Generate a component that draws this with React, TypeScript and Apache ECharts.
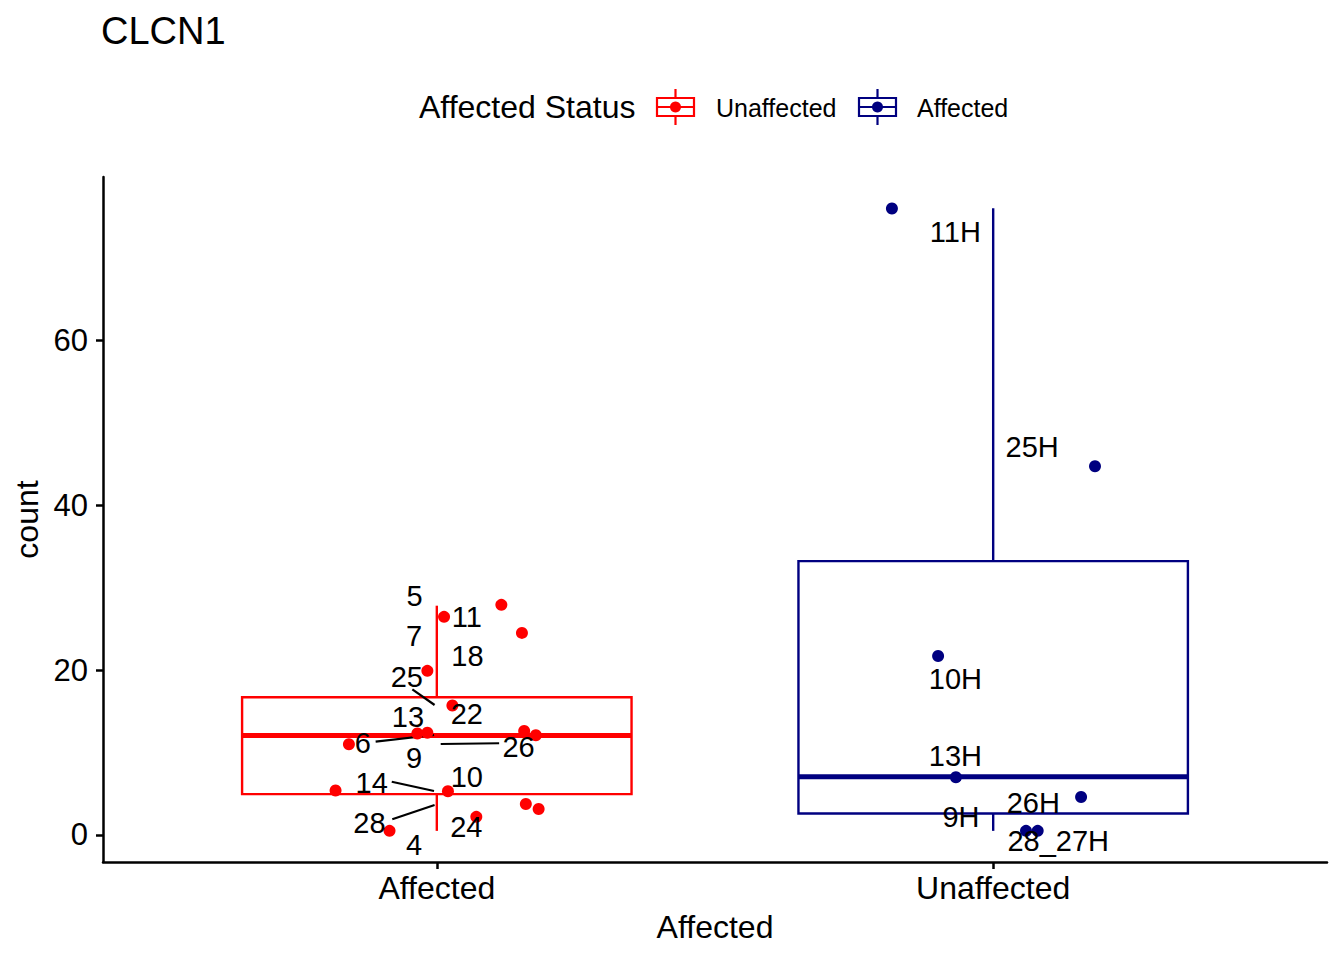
import React, { useEffect, useRef } from "react";
import * as echarts from "echarts";

const FONT = "'Liberation Sans', Arial, Helvetica, sans-serif";

const categories = ["Affected", "Unaffected"];
const categoryPositions = [1, 2];
const yTicks = [0, 20, 40, 60];

// box statistics: [position, lower whisker, Q1, median, Q3, upper whisker, colour index]
const boxStats = [
  [1, 0.5, 4.95, 12.05, 16.7, 27.8, 0],
  [2, 0.5, 2.6, 7.05, 33.2, 76.0, 1],
];
const groupColors = ["#FF0000", "#000080"];
const legendNames = ["Unaffected", "Affected"];

// jittered points [x, count]
const redPoints = [
  [1.116, 27.9], [1.013, 26.45], [1.153, 24.5], [0.983, 19.9], [1.028, 15.7],
  [0.965, 12.3], [0.983, 12.4], [1.157, 12.6], [1.178, 12.1], [0.842, 11.0],
  [0.818, 5.4], [1.02, 5.3], [1.16, 3.75], [1.183, 3.15], [1.071, 2.2], [0.915, 0.5],
];
const bluePoints = [
  [1.818, 75.95], [2.183, 44.7], [1.901, 21.7], [1.933, 7.0],
  [2.158, 4.6], [2.059, 0.5], [2.08, 0.5],
];

// repelled text labels
const labelTexts = [
  "5", "11", "7", "18", "25", "22", "13", "6", "26", "9", "10", "14", "28", "24", "4",
  "11H", "25H", "10H", "13H", "26H", "9H", "28_27H",
];
const labelPositions = [
  [0.96, 28.97], [1.054, 26.46], [0.959, 24.16], [1.055, 21.7], [0.946, 19.19],
  [1.054, 14.63], [0.948, 14.34], [0.867, 11.12], [1.147, 10.7], [0.959, 9.3],
  [1.054, 6.99], [0.883, 6.27], [0.879, 1.49], [1.053, 1.01], [0.959, -1.21],
  [1.932, 73.13], [2.07, 47.07], [1.932, 18.87], [1.932, 9.58], [2.072, 3.84],
  [1.942, 2.15], [2.117, -0.73],
];
// label connector segments [x1, y1, x2, y2]
const segments = [
  [0.956, 17.66, 0.996, 15.76],
  [0.89, 11.31, 0.995, 12.12],
  [1.007, 11.03, 1.112, 11.12],
  [0.919, 6.46, 0.995, 5.33],
  [0.92, 1.9, 0.996, 3.64],
];

function legendKey(x: number, y: number, color: string) {
  const w = 37;
  return {
    type: "group",
    x,
    y,
    children: [
      { type: "line", shape: { x1: w / 2, y1: 0, x2: w / 2, y2: 9 }, style: { stroke: color, lineWidth: 2.2 } },
      { type: "line", shape: { x1: w / 2, y1: 27, x2: w / 2, y2: 36 }, style: { stroke: color, lineWidth: 2.2 } },
      { type: "rect", shape: { x: 0, y: 9, width: w, height: 18 }, style: { stroke: color, fill: "#fff", lineWidth: 2.2 } },
      { type: "line", shape: { x1: 0, y1: 18, x2: w, y2: 18 }, style: { stroke: color, lineWidth: 2.2 } },
      { type: "circle", shape: { cx: w / 2, cy: 18, r: 5.5 }, style: { fill: color } },
    ],
  };
}

export default function App() {
  const ref = useRef<HTMLDivElement>(null);
  useEffect(() => {
    if (!ref.current) return;
    const chart = echarts.init(ref.current, undefined, { renderer: "svg" });
    const option: any = {
      animation: false,
      backgroundColor: "#ffffff",
      textStyle: { fontFamily: FONT },
      title: {
        text: "CLCN1",
        left: 101,
        top: 12,
        padding: 0,
        textStyle: { fontFamily: FONT, fontSize: 38, fontWeight: "normal", color: "#000" },
      },
      grid: { left: 103, right: 17, top: 177, bottom: 98, containLabel: false },
      xAxis: {
        type: "value",
        min: 0.4,
        max: 2.6,
        name: "Affected",
        nameLocation: "middle",
        nameGap: 49,
        nameTextStyle: { fontFamily: FONT, fontSize: 32, color: "#000" },
        axisLine: { show: true, onZero: false, lineStyle: { color: "#000", width: 2.5 } },
        axisTick: { show: true, length: 7, customValues: categoryPositions, lineStyle: { color: "#000", width: 2.5 } },
        axisLabel: {
          customValues: categoryPositions,
          margin: 10,
          fontFamily: FONT,
          fontSize: 32,
          color: "#000",
          formatter: (v: number) => categories[Math.round(v) - 1] ?? "",
        },
        splitLine: { show: false },
      },
      yAxis: {
        type: "value",
        min: -3.275,
        max: 79.775,
        name: "count",
        nameLocation: "middle",
        nameRotate: 90,
        nameGap: 60,
        nameTextStyle: { fontFamily: FONT, fontSize: 32, color: "#000" },
        axisLine: { show: true, onZero: false, lineStyle: { color: "#000", width: 2.5 } },
        axisTick: { show: true, length: 7, customValues: yTicks, lineStyle: { color: "#000", width: 2.5 } },
        axisLabel: {
          customValues: yTicks,
          margin: 15,
          fontFamily: FONT,
          fontSize: 31,
          color: "#000",
        },
        splitLine: { show: false },
      },
      graphic: [
        {
          type: "text",
          x: 419,
          y: 107,
          style: { text: "Affected Status", fontFamily: FONT, fontSize: 32, fill: "#000", align: "left", verticalAlign: "middle" },
        },
        legendKey(657, 89, groupColors[0]),
        {
          type: "text",
          x: 716,
          y: 108,
          style: { text: legendNames[0], fontFamily: FONT, fontSize: 25, fill: "#000", align: "left", verticalAlign: "middle" },
        },
        legendKey(859, 89, groupColors[1]),
        {
          type: "text",
          x: 917,
          y: 108,
          style: { text: legendNames[1], fontFamily: FONT, fontSize: 25, fill: "#000", align: "left", verticalAlign: "middle" },
        },
      ],
      series: [
        {
          type: "custom",
          name: "box",
          data: boxStats,
          encode: { x: 0, y: [1, 2, 3, 4, 5] },
          renderItem: (params: any, api: any) => {
            const x = api.value(0);
            const lo = api.value(1);
            const q1 = api.value(2);
            const med = api.value(3);
            const q3 = api.value(4);
            const hi = api.value(5);
            const color = groupColors[api.value(6)];
            const hw = 0.35;
            const c = (xx: number, yy: number) => api.coord([xx, yy]);
            const tl = c(x - hw, q3);
            const br = c(x + hw, q1);
            const pHi = c(x, hi);
            const pQ3 = c(x, q3);
            const pQ1 = c(x, q1);
            const pLo = c(x, lo);
            const mL = c(x - hw, med);
            const mR = c(x + hw, med);
            return {
              type: "group",
              children: [
                { type: "line", shape: { x1: pQ3[0], y1: pQ3[1], x2: pHi[0], y2: pHi[1] }, style: { stroke: color, lineWidth: 2.4 } },
                { type: "line", shape: { x1: pQ1[0], y1: pQ1[1], x2: pLo[0], y2: pLo[1] }, style: { stroke: color, lineWidth: 2.4 } },
                {
                  type: "rect",
                  shape: { x: tl[0], y: tl[1], width: br[0] - tl[0], height: br[1] - tl[1] },
                  style: { stroke: color, fill: "#ffffff", lineWidth: 2.4 },
                },
                { type: "line", shape: { x1: mL[0], y1: mL[1], x2: mR[0], y2: mR[1] }, style: { stroke: color, lineWidth: 5 } },
              ],
            };
          },
          z: 1,
        },
        {
          type: "custom",
          name: "segments",
          data: segments,
          encode: { x: [0, 2], y: [1, 3] },
          renderItem: (params: any, api: any) => {
            const p1 = api.coord([api.value(0), api.value(1)]);
            const p2 = api.coord([api.value(2), api.value(3)]);
            return {
              type: "line",
              shape: { x1: p1[0], y1: p1[1], x2: p2[0], y2: p2[1] },
              style: { stroke: "#000", lineWidth: 2.2 },
            };
          },
          z: 2,
        },
        {
          type: "scatter",
          name: legendNames[0],
          data: redPoints,
          symbol: "circle",
          symbolSize: 12,
          itemStyle: { color: groupColors[0], opacity: 1 },
          z: 3,
        },
        {
          type: "scatter",
          name: legendNames[1],
          data: bluePoints,
          symbol: "circle",
          symbolSize: 12,
          itemStyle: { color: groupColors[1], opacity: 1 },
          z: 3,
        },
        {
          type: "custom",
          name: "labels",
          data: labelPositions,
          encode: { x: 0, y: 1 },
          renderItem: (params: any, api: any) => {
            const p = api.coord([api.value(0), api.value(1)]);
            return {
              type: "text",
              x: p[0],
              y: p[1],
              style: {
                text: labelTexts[params.dataIndex],
                fontFamily: FONT,
                fontSize: 29,
                fill: "#000",
                align: "center",
                verticalAlign: "middle",
              },
            };
          },
          z: 4,
        },
      ],
    };
    chart.setOption(option);
    return () => chart.dispose();
  }, []);
  return (
    <div
      ref={ref}
      style={{ position: "fixed", left: 0, top: 0, width: 1344, height: 960, background: "#fff" }}
    />
  );
}
